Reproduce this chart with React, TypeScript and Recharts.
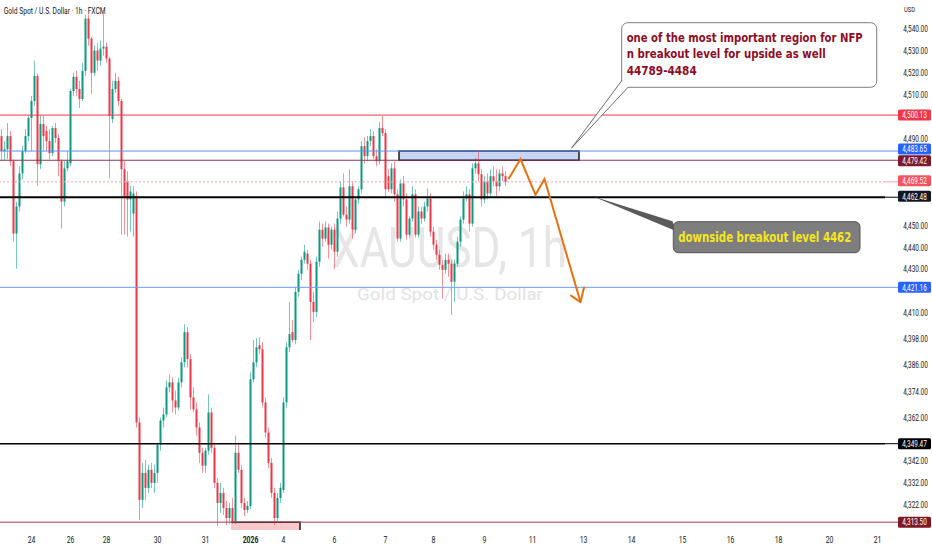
import {
  ComposedChart,
  Bar,
  Line,
  XAxis,
  YAxis,
  ReferenceLine,
  ReferenceArea,
  ReferenceDot,
} from "recharts";

// hourly candles, [open, high, low, close]
const ohlc: [number, number, number, number][] = [
  [4490.5, 4493.7, 4479.0, 4483.6], [4483.6, 4488.2, 4479.0, 4484.5], [4484.5, 4496.5, 4479.9, 4490.5],
  [4490.5, 4492.8, 4476.7, 4479.0], [4479.0, 4479.9, 4442.1, 4445.8], [4445.8, 4460.5, 4429.7, 4458.2],
  [4458.2, 4476.7, 4455.9, 4473.4], [4473.4, 4485.9, 4470.7, 4483.6], [4483.6, 4493.7, 4482.7, 4490.5],
  [4490.5, 4499.7, 4488.2, 4498.8], [4498.8, 4508.9, 4483.6, 4506.6], [4506.6, 4525.1, 4504.3, 4518.1],
  [4518.1, 4519.1, 4467.5, 4477.6], [4477.6, 4499.7, 4475.3, 4496.0], [4496.0, 4499.7, 4483.6, 4490.5],
  [4492.8, 4495.1, 4483.6, 4488.2], [4488.2, 4493.7, 4479.9, 4482.7], [4482.7, 4495.1, 4481.3, 4494.2],
  [4494.2, 4496.5, 4487.3, 4489.6], [4489.6, 4491.4, 4472.1, 4479.0], [4479.0, 4479.9, 4448.1, 4460.5],
  [4460.5, 4479.0, 4458.2, 4475.7], [4475.7, 4483.6, 4474.4, 4479.0], [4478.0, 4512.1, 4476.7, 4511.2],
  [4511.2, 4519.5, 4508.9, 4517.7], [4517.7, 4520.4, 4508.9, 4512.1], [4512.1, 4515.8, 4503.4, 4507.5],
  [4507.5, 4524.1, 4506.6, 4520.4], [4520.4, 4546.2, 4518.1, 4544.4], [4544.4, 4546.2, 4532.0, 4535.2],
  [4535.2, 4536.1, 4509.8, 4519.5], [4519.5, 4532.0, 4518.1, 4529.7], [4529.7, 4533.3, 4520.4, 4525.1],
  [4525.1, 4534.3, 4522.7, 4530.6], [4530.6, 4546.7, 4527.4, 4531.5], [4531.5, 4533.3, 4524.1, 4526.0],
  [4526.0, 4526.9, 4471.1, 4499.7], [4498.3, 4515.8, 4496.5, 4512.1], [4512.1, 4519.5, 4510.3, 4515.8],
  [4515.8, 4517.7, 4504.3, 4506.6], [4506.6, 4507.5, 4445.3, 4475.3], [4475.3, 4479.0, 4445.3, 4462.8],
  [4469.8, 4474.4, 4444.4, 4461.5], [4461.5, 4467.5, 4446.7, 4465.1], [4455.0, 4467.5, 4444.4, 4464.2],
  [4462.8, 4465.1, 4356.9, 4359.2], [4359.2, 4361.5, 4314.5, 4323.7], [4323.7, 4340.7, 4320.0, 4336.1],
  [4336.1, 4342.1, 4323.7, 4329.2], [4329.2, 4339.8, 4326.9, 4337.5], [4337.5, 4340.7, 4329.2, 4331.5],
  [4331.5, 4339.8, 4326.9, 4336.1], [4336.1, 4350.0, 4331.5, 4349.0], [4349.0, 4361.5, 4346.3, 4360.1],
  [4360.1, 4366.1, 4356.9, 4362.9], [4362.9, 4378.5, 4361.5, 4375.3], [4375.3, 4381.3, 4373.0, 4377.6],
  [4377.6, 4379.9, 4363.8, 4369.3], [4369.3, 4373.9, 4362.9, 4366.1], [4366.1, 4379.9, 4364.7, 4377.6],
  [4377.6, 4389.1, 4375.3, 4386.8], [4386.8, 4404.3, 4384.5, 4400.6], [4400.6, 4402.9, 4384.5, 4388.2],
  [4388.2, 4390.5, 4365.2, 4370.7], [4370.7, 4375.3, 4363.8, 4365.2], [4365.2, 4368.4, 4353.2, 4356.9],
  [4356.9, 4359.2, 4340.7, 4345.3], [4345.3, 4347.6, 4336.1, 4339.4], [4339.4, 4347.6, 4336.1, 4346.3],
  [4346.3, 4372.1, 4344.4, 4363.8], [4363.8, 4366.1, 4345.3, 4347.6], [4347.6, 4350.0, 4329.2, 4331.5],
  [4331.5, 4333.8, 4311.7, 4322.3], [4322.3, 4331.5, 4317.7, 4326.9], [4326.9, 4329.2, 4316.8, 4320.0],
  [4320.0, 4323.2, 4312.2, 4315.4], [4315.4, 4322.3, 4312.6, 4320.0], [4320.0, 4324.6, 4312.6, 4314.0],
  [4314.0, 4353.2, 4312.6, 4345.3], [4345.3, 4350.0, 4336.1, 4337.5], [4337.5, 4339.8, 4320.0, 4322.3],
  [4322.3, 4324.6, 4316.3, 4319.1], [4319.1, 4323.2, 4317.7, 4320.9], [4320.9, 4382.2, 4319.5, 4379.0],
  [4379.0, 4397.0, 4377.6, 4386.8], [4386.8, 4397.9, 4384.5, 4393.7], [4394.6, 4398.3, 4390.5, 4392.8],
  [4392.8, 4396.0, 4366.1, 4368.4], [4368.4, 4370.7, 4352.3, 4354.6], [4354.6, 4356.9, 4338.4, 4340.7],
  [4340.7, 4343.0, 4324.6, 4326.9], [4326.9, 4329.2, 4312.2, 4315.4], [4315.4, 4326.9, 4313.1, 4324.6],
  [4324.6, 4331.5, 4322.3, 4329.2], [4328.3, 4370.7, 4326.9, 4368.4], [4368.4, 4396.0, 4366.1, 4393.7],
  [4393.7, 4414.5, 4391.4, 4399.7], [4400.6, 4406.2, 4396.0, 4397.0], [4397.0, 4421.4, 4395.1, 4419.1],
  [4419.1, 4429.2, 4416.8, 4427.4], [4427.4, 4435.2, 4424.6, 4433.8], [4433.8, 4440.7, 4432.0, 4437.5],
  [4436.6, 4438.4, 4429.2, 4432.0], [4432.0, 4433.8, 4397.0, 4414.5], [4414.5, 4419.1, 4405.2, 4409.9],
  [4409.9, 4435.2, 4407.6, 4432.9], [4432.9, 4451.3, 4430.6, 4447.6], [4447.6, 4450.4, 4439.8, 4443.5],
  [4443.5, 4451.3, 4442.1, 4448.6], [4448.6, 4450.4, 4434.3, 4440.7], [4440.7, 4449.0, 4438.4, 4447.6],
  [4447.6, 4450.4, 4429.7, 4437.5], [4437.5, 4455.9, 4435.2, 4452.7], [4452.7, 4469.8, 4450.4, 4467.0],
  [4467.0, 4473.4, 4453.6, 4454.5], [4454.5, 4458.2, 4449.0, 4452.2], [4452.2, 4475.3, 4450.4, 4467.5],
  [4467.5, 4469.8, 4443.5, 4447.6], [4447.6, 4462.8, 4445.8, 4461.5], [4461.5, 4467.5, 4459.6, 4466.1],
  [4466.1, 4488.2, 4464.2, 4485.9], [4485.9, 4490.0, 4478.0, 4481.3], [4481.3, 4490.5, 4479.0, 4488.2],
  [4488.2, 4493.7, 4485.9, 4490.5], [4490.5, 4492.8, 4479.9, 4481.3], [4481.3, 4484.5, 4476.7, 4479.0],
  [4479.0, 4496.9, 4477.6, 4494.2], [4494.2, 4499.7, 4490.5, 4491.9], [4491.9, 4493.7, 4462.8, 4466.1],
  [4472.1, 4475.3, 4465.1, 4466.1], [4466.1, 4478.0, 4464.2, 4475.7], [4475.7, 4479.0, 4460.5, 4463.8],
  [4463.8, 4466.1, 4442.1, 4443.5], [4443.5, 4470.7, 4442.1, 4468.8], [4468.8, 4472.1, 4458.2, 4461.5],
  [4461.5, 4464.2, 4443.0, 4445.3], [4445.3, 4453.6, 4444.0, 4452.7], [4452.7, 4467.5, 4451.3, 4463.8],
  [4463.8, 4466.1, 4444.0, 4445.3], [4445.3, 4458.2, 4444.0, 4455.9], [4455.9, 4458.2, 4450.4, 4452.7],
  [4452.7, 4460.5, 4451.3, 4458.2], [4458.2, 4466.5, 4455.9, 4461.9], [4461.9, 4464.2, 4444.4, 4446.7],
  [4446.7, 4449.0, 4438.4, 4440.7], [4440.7, 4443.0, 4433.8, 4436.1], [4436.1, 4438.4, 4429.2, 4431.5],
  [4431.5, 4433.8, 4415.9, 4429.2], [4429.2, 4436.6, 4427.4, 4433.8], [4433.8, 4436.6, 4426.0, 4432.0],
  [4432.0, 4433.8, 4408.5, 4423.7], [4423.7, 4433.8, 4414.5, 4432.0], [4432.0, 4444.4, 4430.6, 4442.1],
  [4442.1, 4453.6, 4439.8, 4452.2], [4452.2, 4465.1, 4450.4, 4461.9], [4461.9, 4467.5, 4460.5, 4463.8],
  [4463.8, 4466.1, 4446.7, 4450.4], [4450.4, 4478.0, 4449.0, 4475.7], [4475.7, 4480.5, 4473.4, 4478.0],
  [4478.0, 4484.0, 4469.8, 4473.0], [4473.0, 4475.3, 4458.2, 4461.5], [4461.5, 4472.1, 4459.6, 4469.8],
  [4469.8, 4473.4, 4461.5, 4464.2], [4464.2, 4475.3, 4462.8, 4472.1], [4472.1, 4476.7, 4467.5, 4469.8],
  [4469.8, 4475.3, 4462.8, 4467.5], [4467.5, 4475.3, 4465.1, 4473.4], [4473.4, 4476.7, 4469.8, 4472.1],
  [4472.1, 4474.4, 4467.5, 4469.52],
];

// hourly slots on the time axis (candles + empty future)
const slotCount = 295;

const dateTickIndex = [10, 23, 35, 52, 68, 83, 94, 111, 128, 144, 161, 177, 194, 210, 227, 243, 259, 276, 292];
const dateTickLabels = ["24", "26", "28", "30", "31", "2026", "4", "6", "7", "8", "9", "11", "13", "14", "15", "16", "18", "20", "21"];

const priceTicks = [4540, 4530, 4520, 4510, 4490, 4450, 4440, 4430, 4410, 4398, 4386, 4374, 4362, 4342, 4332, 4322];

const levelPrices = [4500.13, 4483.65, 4479.42, 4469.52, 4462.48, 4421.16, 4349.47, 4313.5];

// projected path drawn by the author
const projIndex = [169, 173, 178, 181, 193];
const projPrice = [4470.8, 4480.0, 4463.6, 4470.8, 4414.4];

const upsideZone = { from: 133, to: 192, low: 4479.42, high: 4483.65 };
const lowZone = { from: 77, to: 99, low: 4309.9, high: 4313.5 };

// tag shift keeps the two close labels from overlapping (as the price scale does)
const levelStyle = [
  { line: "#f23645", w: 1, tag: "#f23645", shift: 0 },
  { line: "#5b8ff9", w: 1, tag: "#2962ff", shift: -2 },
  { line: "#8a3a4c", w: 1, tag: "#7a1a2c", shift: 0.5 },
  { line: "#f5a3aa", w: 1, dash: "2 2", tag: "#f7525f", shift: -1 },
  { line: "#000000", w: 2, tag: "#131722", shift: -1 },
  { line: "#6e9cf5", w: 1, tag: "#2962ff", shift: 0 },
  { line: "#000000", w: 1.6, tag: "#000000", shift: 0 },
  { line: "#9e3b4a", w: 1, tag: "#801922", shift: 0 },
];

const rows = Array.from({ length: slotCount }, (_, i) => {
  const c = ohlc[i];
  const p = projIndex.indexOf(i);
  return {
    i,
    c,
    range: c ? [c[2], c[1]] : null,
    proj: p >= 0 ? projPrice[p] : null,
  };
});

const fmt = (v: number) =>
  v.toLocaleString("en-US", { minimumFractionDigits: 2, maximumFractionDigits: 2 });

const AXIS_FONT = "Roboto, 'DejaVu Sans', sans-serif";

function Candle(props: any) {
  const { x, y, width, height, payload } = props;
  if (!payload || !payload.c) return null;
  const [o, h, l, c] = payload.c;
  const color = c >= o ? "#089981" : "#f23645";
  const k = h === l ? 0 : height / (h - l);
  const cx = x + width / 2;
  const top = y + (h - Math.max(o, c)) * k;
  const bot = y + (h - Math.min(o, c)) * k;
  return (
    <g>
      <line x1={cx} x2={cx} y1={y} y2={y + height} stroke={color} strokeOpacity={0.55} strokeWidth={1} />
      <rect x={cx - 1} y={top} width={2} height={Math.max(1, bot - top)} fill={color} />
    </g>
  );
}

function DateTick(props: any) {
  const { x, payload } = props;
  const k = dateTickIndex.indexOf(payload.value);
  if (k < 0) return <g />;
  const label = dateTickLabels[k];
  return (
    <text
      transform={`translate(${x},543) scale(0.72,1)`}
      textAnchor="middle"
      fontSize={9.5}
      fontFamily={AXIS_FONT}
      fontWeight={label === "2026" ? 700 : 400}
      fill="#131722"
    >
      {label}
    </text>
  );
}

function PriceTick(props: any) {
  const { y, payload } = props;
  return (
    <text
      transform={`translate(915.5,${y + 1}) scale(0.68,1)`}
      textAnchor="middle"
      dy="0.35em"
      fontSize={9.5}
      fontFamily={AXIS_FONT}
      fill="#131722"
    >
      {fmt(payload.value)}
    </text>
  );
}

function PriceTag(props: any) {
  const { viewBox, value, bg, line, shift } = props;
  if (!viewBox) return null;
  const y = viewBox.y;
  const ty = y + (shift || 0);
  const x0 = viewBox.x + viewBox.width;
  return (
    <g>
      <line x1={x0} x2={898} y1={y} y2={y} stroke={line} strokeWidth={1} />
      <rect x={898} y={ty - 5.5} width={33} height={11} rx={1.5} fill={bg} />
      <text
        transform={`translate(914.5,${ty}) scale(0.68,1)`}
        textAnchor="middle"
        dy="0.35em"
        fontSize={9.5}
        fontFamily={AXIS_FONT}
        fill="#ffffff"
      >
        {fmt(value)}
      </text>
    </g>
  );
}

function Arrow(props: any) {
  const { cx, cy, index } = props;
  if (index !== projIndex[projIndex.length - 1] || cx == null || cy == null) return <g key={`d${index}`} />;
  return (
    <g key="arrow-head">
      <line x1={cx} y1={cy} x2={cx - 9.5} y2={cy - 6.5} stroke="#e8700f" strokeWidth={2} strokeLinecap="round" />
      <line x1={cx} y1={cy} x2={cx + 3.5} y2={cy - 14.5} stroke="#e8700f" strokeWidth={2} strokeLinecap="round" />
    </g>
  );
}

const CALLOUT_FONT = "'DejaVu Sans', Verdana, sans-serif";

function NfpCallout(props: any) {
  const { cx, cy } = props;
  if (cx == null || cy == null) return null;
  const bx = cx + 50.2;
  const by = cy - 125.4;
  const lines = [
    { t: "one of the most important region for NFP", w: 236 },
    { t: "n breakout level for upside as well", w: 199 },
    { t: "44789-4484", w: 70 },
  ];
  return (
    <g>
      <rect x={bx} y={by} width={255} height={64.6} rx={6} fill="#ffffff" stroke="#7d7d7d" strokeWidth={1} />
      <polygon
        points={`${cx + 50.7},${cy - 68} ${cx},${cy} ${cx + 56.5},${cy - 60.8} ${cx + 60},${cy - 70}`}
        fill="#ffffff"
      />
      <line x1={cx + 50.7} y1={cy - 68} x2={cx} y2={cy} stroke="#6d6d6d" strokeWidth={1} />
      <line x1={cx + 56.5} y1={cy - 60.8} x2={cx} y2={cy} stroke="#6d6d6d" strokeWidth={1} />
      {lines.map((l, k) => (
        <text
          key={k}
          x={cx + 55.2}
          y={cy - 106.4 + k * 16.7}
          fontSize={13}
          fontWeight={700}
          fontFamily={CALLOUT_FONT}
          fill="#8e0c24"
          textLength={l.w}
          lengthAdjust="spacingAndGlyphs"
        >
          {l.t}
        </text>
      ))}
    </g>
  );
}

function BreakdownCallout(props: any) {
  const { cx, cy } = props;
  if (cx == null || cy == null) return null;
  return (
    <g>
      <polygon points={`${cx},${cy - 1} ${cx + 80},${cy + 24} ${cx + 84},${cy + 34}`} fill="#5a5a5a" />
      <rect x={cx + 80.8} y={cy + 24.5} width={186.7} height={31} rx={5} fill="#7e7e7e" stroke="#555555" strokeWidth={1} />
      <text
        x={cx + 85.8}
        y={cy + 44.5}
        fontSize={13.5}
        fontWeight={700}
        fontFamily={CALLOUT_FONT}
        fill="#f5e61e"
        textLength={173}
        lengthAdjust="spacingAndGlyphs"
      >
        downside breakout level 4462
      </text>
    </g>
  );
}

function ZoneBox(props: any) {
  const { x, y, width, height } = props;
  return <rect x={x} y={y} width={width} height={height} fill="#c6d5f6" stroke="#1b1b1b" strokeWidth={1.5} />;
}

function LowBox(props: any) {
  const { x, y, width, height } = props;
  return (
    <g>
      <rect x={x} y={y} width={width} height={height} fill="#f9c8cd" />
      <path d={`M${x},${y} H${x + width} V${y + height}`} fill="none" stroke="#1b1b1b" strokeWidth={1.5} />
    </g>
  );
}

export default function App() {
  return (
    <div
      style={{
        position: "fixed",
        left: 0,
        top: 0,
        width: 932,
        height: 550,
        background: "#ffffff",
        overflow: "hidden",
      }}
    >
      <svg width={932} height={550} style={{ position: "absolute", left: 0, top: 0 }}>
        <text
          x={332}
          y={267}
          fontSize={56}
          fontFamily="Roboto, sans-serif"
          fill="#e6e6e6"
          textLength={235}
          lengthAdjust="spacingAndGlyphs"
        >
          XAUUSD, 1h
        </text>
        <text
          x={357}
          y={300}
          fontSize={17}
          fontFamily="Roboto, sans-serif"
          fill="#e2e2e2"
          textLength={186}
          lengthAdjust="spacingAndGlyphs"
        >
          Gold Spot / U.S. Dollar
        </text>
      </svg>
      <div style={{ position: "absolute", left: 0, top: 0 }}>
        <ComposedChart
          width={932}
          height={550}
          data={rows}
          margin={{ top: 0, right: 0, bottom: 0, left: 0 }}
          barCategoryGap={0}
        >
          <XAxis
            dataKey="i"
            type="category"
            height={20}
            axisLine={false}
            tickLine={false}
            interval={0}
            tick={<DateTick />}
          />
          <YAxis
            orientation="right"
            type="number"
            width={47}
            domain={[4309.9, 4552.9]}
            allowDataOverflow
            ticks={priceTicks}
            interval={0}
            axisLine={false}
            tickLine={false}
            tick={<PriceTick />}
          />
          <Bar dataKey="range" shape={Candle} isAnimationActive={false} />
          {levelPrices.map((p, k) => (
            <ReferenceLine
              key={p}
              y={p}
              stroke={levelStyle[k].line}
              strokeWidth={levelStyle[k].w}
              strokeDasharray={levelStyle[k].dash}
              label={
                <PriceTag
                  value={p}
                  bg={levelStyle[k].tag}
                  line={levelStyle[k].line}
                  shift={levelStyle[k].shift}
                />
              }
            />
          ))}
          <ReferenceArea
            x1={upsideZone.from}
            x2={upsideZone.to}
            y1={upsideZone.low}
            y2={upsideZone.high}
            shape={ZoneBox}
          />
          <ReferenceArea
            x1={lowZone.from}
            x2={lowZone.to}
            y1={lowZone.low}
            y2={lowZone.high}
            shape={LowBox}
          />
          <Line
            dataKey="proj"
            type="linear"
            connectNulls
            stroke="#e8700f"
            strokeWidth={2}
            dot={Arrow}
            activeDot={false}
            isAnimationActive={false}
          />
          <ReferenceDot x={190} y={4485} r={0} ifOverflow="visible" shape={NfpCallout} />
          <ReferenceDot x={197} y={4462.48} r={0} ifOverflow="visible" shape={BreakdownCallout} />
        </ComposedChart>
      </div>
      <svg
        width={932}
        height={550}
        style={{ position: "absolute", left: 0, top: 0, pointerEvents: "none" }}
      >
        <text
          x={3.7}
          y={14.3}
          fontSize={9.5}
          fontFamily={AXIS_FONT}
          fill="#131722"
          textLength={102}
          lengthAdjust="spacingAndGlyphs"
        >
          Gold Spot / U.S. Dollar · 1h · FXCM
        </text>
        <text
          x={904}
          y={12}
          fontSize={7.5}
          fontFamily={AXIS_FONT}
          fill="#131722"
          textLength={11}
          lengthAdjust="spacingAndGlyphs"
        >
          USD
        </text>
      </svg>
    </div>
  );
}
